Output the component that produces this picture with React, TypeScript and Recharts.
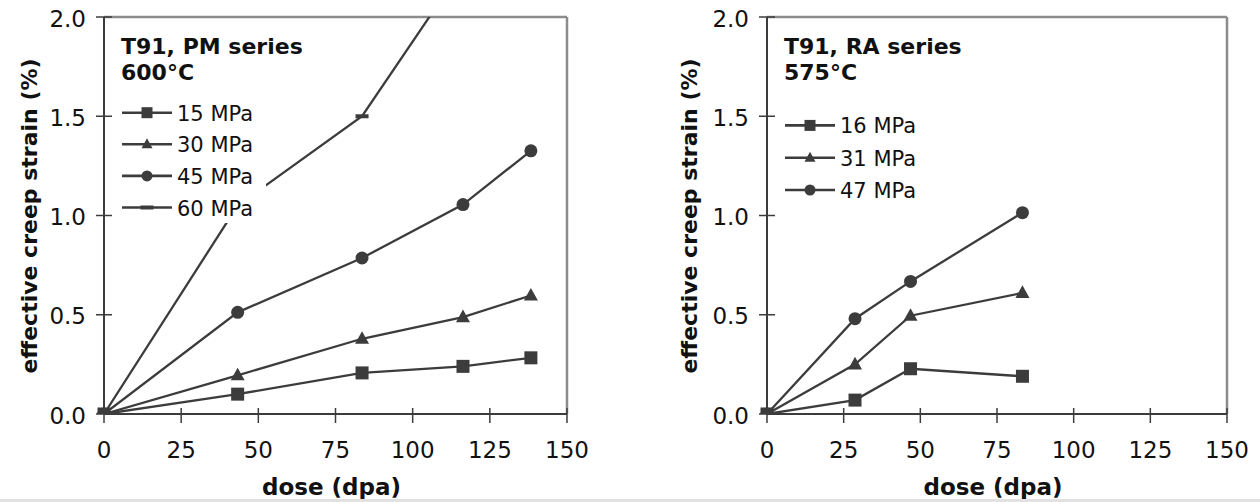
import { LineChart, Line, XAxis, YAxis, Legend, ReferenceLine, Label } from 'recharts';

// PM series, 600°C
const pmDose = [0, 43.3, 83.6, 116.3, 138.3];
const pm15 = [0, 0.1, 0.207, 0.24, 0.283];
const pm30 = [0, 0.195, 0.379, 0.488, 0.597];
const pm45 = [0, 0.512, 0.786, 1.055, 1.326];
const pm60 = [0, 1.05, 1.5, 2.25];

// RA series, 575°C
const raDose = [0, 28.7, 46.8, 83.3];
const ra16 = [0, 0.07, 0.228, 0.19];
const ra31 = [0, 0.25, 0.495, 0.61];
const ra47 = [0, 0.48, 0.668, 1.014];

const doseTicks = [0, 25, 50, 75, 100, 125, 150];
const strainTicks = [0, 0.5, 1.0, 1.5, 2.0];

const INK = '#3c3c3c';
const FONT = '"DejaVu Sans", Verdana, sans-serif';

type Shape = 'square' | 'triangle' | 'circle' | 'dash';

const Marker = ({ shape, cx, cy, s }: { shape: Shape; cx: number; cy: number; s: number }) => {
  if (shape === 'square') return <rect x={cx - s / 2} y={cy - s / 2} width={s} height={s} fill={INK} />;
  if (shape === 'triangle') {
    const h = s * 0.9;
    return <polygon points={`${cx},${cy - h * 0.6} ${cx + s / 2},${cy + h * 0.4} ${cx - s / 2},${cy + h * 0.4}`} fill={INK} />;
  }
  if (shape === 'circle') return <circle cx={cx} cy={cy} r={s / 2} fill={INK} />;
  return <rect x={cx - s / 2} y={cy - 2} width={s} height={4} fill={INK} />;
};

const XTick = ({ x, y, payload }: any) => (
  <g>
    <line x1={x} x2={x} y1={y - 6} y2={y + 9} stroke={INK} strokeWidth={1.5} />
    <text x={x} y={y + 44} textAnchor="middle" fontSize={23} fontFamily={FONT} fill="#111">
      {payload.value}
    </text>
  </g>
);

const YTick = ({ x, y, payload }: any) => (
  <g>
    <line x1={x - 8} x2={x + 8} y1={y} y2={y} stroke={INK} strokeWidth={1.5} />
    <text x={x - 18} y={y + 9.5} textAnchor="end" fontSize={23} fontFamily={FONT} fill="#111">
      {Number(payload.value).toFixed(1)}
    </text>
  </g>
);

const LegendBox = ({ payload, title, shapes, rowStart, rowStep }: any) => (
  <svg width={152} height={197} style={{ display: 'block', overflow: 'visible' }}>
    <text x={7} y={28.3} fontSize={22} fontWeight="bold" fontFamily={FONT} fill="#111">
      {title[0]}
    </text>
    <text x={7} y={54} fontSize={22} fontWeight="bold" fontFamily={FONT} fill="#111">
      {title[1]}
    </text>
    {(payload || []).map((entry: any, i: number) => {
      const cy = rowStart + i * rowStep;
      return (
        <g key={entry.value}>
          <line x1={8} x2={58} y1={cy} y2={cy} stroke={INK} strokeWidth={2.6} />
          <Marker shape={shapes[entry.value]} cx={33} cy={cy} s={shapes[entry.value] === 'dash' ? 13 : 11} />
          <text x={63} y={cy + 8} fontSize={21} fontFamily={FONT} fill="#111">
            {entry.value}
          </text>
        </g>
      );
    })}
  </svg>
);

const dotOf = (shape: Shape, name: string) => (props: any) => {
  if (props.cx == null || props.cy == null || props.value == null) return <g key={`${name}-${props.index}`} />;
  return (
    <g key={`${name}-${props.index}`}>
      <Marker shape={shape} cx={props.cx} cy={props.cy} s={shape === 'dash' ? 13 : shape === 'triangle' ? 14 : 13} />
    </g>
  );
};

type Series = { key: string; name: string; shape: Shape };

const CreepPanel = ({
  data,
  series,
  title,
  yAxisWidth,
  marginRight,
  titleX,
  legendLeft,
  rowStart,
  rowStep,
}: {
  data: any[];
  series: Series[];
  title: string[];
  yAxisWidth: number;
  marginRight: number;
  titleX: number;
  legendLeft: number;
  rowStart: number;
  rowStep: number;
}) => {
  const shapes: Record<string, Shape> = {};
  series.forEach((s) => (shapes[s.name] = s.shape));
  return (
    <LineChart width={630} height={502} data={data} margin={{ top: 17, right: marginRight, left: 0, bottom: 0 }}>
      <XAxis
        type="number"
        dataKey="dose"
        domain={[0, 150]}
        ticks={doseTicks}
        tickSize={0}
        tickMargin={0}
        tick={<XTick />}
        axisLine={{ stroke: INK, strokeWidth: 2 }}
        tickLine={false}
        height={88}
        interval={0}
      >
        <Label
          content={({ viewBox }: any) => (
            <text
              x={viewBox.x + viewBox.width / 2 - 4}
              y={495}
              textAnchor="middle"
              fontSize={23}
              fontWeight="bold"
              fontFamily={FONT}
              fill="#111"
            >
              dose (dpa)
            </text>
          )}
        />
      </XAxis>
      <YAxis
        type="number"
        domain={[0, 2]}
        ticks={strainTicks}
        allowDataOverflow
        width={yAxisWidth}
        tickSize={0}
        tickMargin={0}
        tick={<YTick />}
        axisLine={{ stroke: INK, strokeWidth: 2 }}
        tickLine={false}
        interval={0}
      >
        <Label
          content={() => (
            <text
              x={titleX}
              y={216}
              transform={`rotate(-90 ${titleX} 216)`}
              textAnchor="middle"
              dominantBaseline="central"
              fontSize={22}
              fontWeight="bold"
              fontFamily={FONT}
              fill="#111"
            >
              effective creep strain (%)
            </text>
          )}
        />
      </YAxis>
      <ReferenceLine y={2} stroke="#8c8c8c" strokeWidth={2.5} />
      <ReferenceLine x={150} stroke="#8c8c8c" strokeWidth={2.5} />
      {series.map((s) => (
        <Line
          key={s.key}
          type="linear"
          dataKey={s.key}
          name={s.name}
          stroke={INK}
          strokeWidth={2.3}
          dot={dotOf(s.shape, s.key)}
          activeDot={false}
          isAnimationActive={false}
        />
      ))}
      <Legend
        layout="vertical"
        align="center"
        verticalAlign="middle"
        wrapperStyle={{ left: legendLeft, top: 26, width: 152, height: 197, background: '#fff', overflow: 'visible' }}
        content={(props: any) => (
          <LegendBox payload={props.payload} title={title} shapes={shapes} rowStart={rowStart} rowStep={rowStep} />
        )}
      />
    </LineChart>
  );
};

const pmData = pmDose.map((d, i) => ({ dose: d, s15: pm15[i], s30: pm30[i], s45: pm45[i], s60: pm60[i] }));
const raData = raDose.map((d, i) => ({ dose: d, s16: ra16[i], s31: ra31[i], s47: ra47[i] }));

const pmSeries: Series[] = [
  { key: 's15', name: '15 MPa', shape: 'square' },
  { key: 's30', name: '30 MPa', shape: 'triangle' },
  { key: 's45', name: '45 MPa', shape: 'circle' },
  { key: 's60', name: '60 MPa', shape: 'dash' },
];

const raSeries: Series[] = [
  { key: 's16', name: '16 MPa', shape: 'square' },
  { key: 's31', name: '31 MPa', shape: 'triangle' },
  { key: 's47', name: '47 MPa', shape: 'circle' },
];

export default function App() {
  return (
    <div style={{ position: 'absolute', left: 0, top: 0, width: 1260, height: 502, background: '#fff', overflow: 'hidden' }}>
      <div style={{ position: 'absolute', left: 0, top: 0 }}>
        <CreepPanel
          data={pmData}
          series={pmSeries}
          title={['T91, PM series', '600°C']}
          yAxisWidth={104}
          marginRight={63}
          titleX={29}
          legendLeft={114}
          rowStart={86.7}
          rowStep={31.6}
        />
      </div>
      <div style={{ position: 'absolute', left: 630, top: 0 }}>
        <CreepPanel
          data={raData}
          series={raSeries}
          title={['T91, RA series', '575°C']}
          yAxisWidth={137}
          marginRight={33}
          titleX={59}
          legendLeft={147}
          rowStart={99.4}
          rowStep={32.3}
        />
      </div>
      <div style={{ position: 'absolute', left: 0, top: 499, width: 1260, height: 3, background: '#e2e2e2' }} />
    </div>
  );
}
